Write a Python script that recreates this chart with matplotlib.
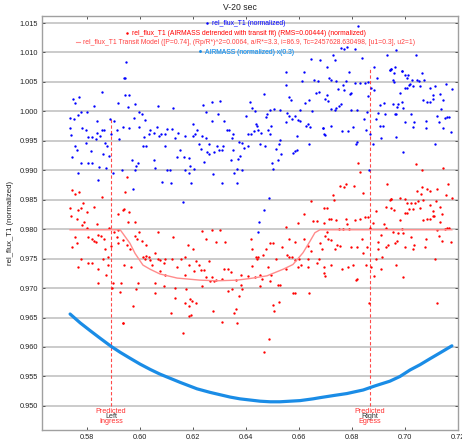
import matplotlib
matplotlib.use("Agg")
import matplotlib.pyplot as plt
from matplotlib.lines import Line2D
from matplotlib.ticker import FormatStrFormatter, MultipleLocator

plt.rcParams['font.family'] = ['Liberation Sans', 'DejaVu Sans']

title = "V-20 sec"
ylabel = "rel_flux_T1 (normalized)"
legend_labels = [
    "rel_flux_T1 (normalized)",
    "rel_flux_T1 (AIRMASS detrended with transit fit) (RMS=0.00444) (normalized)",
    "rel_flux_T1 Transit Model ([P=0.74], (Rp/R*)^2=0.0064, a/R*=3.3, i=86.9, Tc=2457628.630498, [u1=0.3], u2=1)",
    "AIRMASS (normalized) x(0.3)",
]
ingress_t = 0.5891
egress_t = 0.6868
ingress_top = 0.9987
egress_top = 1.0076
x_ticks = [0.58, 0.60, 0.62, 0.64, 0.66, 0.68, 0.70, 0.72]

# rel_flux_T1 (normalized): (time, flux)
blue_points = [
    (0.5855, 1.0033), (0.5748, 1.0021), (0.5770, 1.0024), (0.5755, 1.0014), (0.5828, 1.0009),
    (0.5918, 1.0014), (0.5777, 0.9999), (0.5799, 0.9999), (0.5765, 0.9993), (0.5736, 0.9989),
    (0.5752, 0.9987), (0.5836, 0.9984), (0.5887, 0.9987), (0.5903, 0.9984), (0.5937, 0.9974),
    (0.5736, 0.9971), (0.5782, 0.9971), (0.5796, 0.9969), (0.5855, 0.9968), (0.5865, 0.9968),
    (0.5839, 0.9964), (0.5912, 0.9969), (0.5738, 0.9960), (0.5805, 0.9956), (0.5818, 0.9956),
    (0.5833, 0.9953), (0.5849, 0.9959), (0.5891, 0.9961), (0.5921, 0.9953), (0.5795, 0.9947),
    (0.5868, 0.9947), (0.5755, 0.9942), (0.5874, 0.9941), (0.5761, 0.9935), (0.5815, 0.9932),
    (0.5862, 0.9928), (0.5883, 0.9924), (0.5742, 0.9923), (0.5777, 0.9912), (0.5805, 0.9912),
    (0.5820, 0.9913), (0.5846, 0.9906), (0.5872, 0.9904), (0.5931, 0.9901), (0.5765, 0.9896),
    (0.5899, 0.9895), (0.5843, 0.9883), (0.5941, 1.0057),
    (0.5947, 1.0083), (0.5945, 1.0056), (0.5942, 1.0027), (0.5960, 1.0027), (0.5982, 1.0013),
    (0.5955, 1.0008), (0.6068, 1.0009), (0.6123, 1.0006), (0.5997, 0.9999), (0.6007, 0.9996),
    (0.5976, 0.9988), (0.6020, 0.9985), (0.5995, 0.9974), (0.6064, 0.9974), (0.5957, 0.9971),
    (0.6039, 0.9969), (0.6102, 0.9970), (0.6121, 0.9970), (0.6052, 0.9964), (0.6080, 0.9962),
    (0.6096, 0.9961), (0.6143, 0.9964), (0.6033, 0.9961), (0.6171, 0.9959), (0.6070, 0.9958),
    (0.6133, 0.9955), (0.6014, 0.9957), (0.6023, 0.9941), (0.6010, 0.9942), (0.6093, 0.9942),
    (0.6152, 0.9935), (0.6165, 0.9923), (0.6140, 0.9923), (0.5970, 0.9918), (0.6052, 0.9918),
    (0.6184, 0.9921), (0.5992, 0.9912), (0.5985, 0.9907), (0.6058, 0.9904), (0.6102, 0.9901),
    (0.6114, 0.9901), (0.6168, 0.9900), (0.5980, 0.9900), (0.6184, 0.9896), (0.6083, 0.9880),
    (0.6118, 0.9878), (0.5972, 0.9868), (0.6161, 0.9846),
    (0.6271, 1.0016), (0.6301, 1.0017), (0.6238, 1.0010), (0.6248, 0.9999), (0.6415, 1.0016),
    (0.6424, 1.0006), (0.6296, 0.9996), (0.6273, 0.9983), (0.6198, 0.9978), (0.6315, 0.9984),
    (0.6399, 0.9992), (0.6434, 1.0000), (0.6443, 0.9976), (0.6216, 0.9969), (0.6208, 0.9962),
    (0.6233, 0.9959), (0.6200, 0.9958), (0.6336, 0.9969), (0.6327, 0.9969), (0.6349, 0.9962),
    (0.6409, 0.9961), (0.6418, 0.9961), (0.6430, 0.9966), (0.6250, 0.9954), (0.6346, 0.9955),
    (0.6223, 0.9945), (0.6260, 0.9945), (0.6292, 0.9941), (0.6313, 0.9942), (0.6374, 0.9948),
    (0.6384, 0.9947), (0.6409, 0.9941), (0.6229, 0.9936), (0.6298, 0.9934), (0.6308, 0.9935),
    (0.6393, 0.9938), (0.6254, 0.9931), (0.6279, 0.9931), (0.6260, 0.9928), (0.6349, 0.9934),
    (0.6376, 0.9924), (0.6371, 0.9919), (0.6242, 0.9914), (0.6345, 0.9918), (0.6188, 0.9907),
    (0.6204, 0.9903), (0.6367, 0.9903), (0.6384, 0.9900), (0.6355, 0.9896), (0.6276, 0.9894),
    (0.6308, 0.9879), (0.6367, 0.9878), (0.6191, 0.9879), (0.6447, 0.9796),
    (0.6680, 1.0088), (0.6646, 1.0089), (0.6549, 1.0066), (0.6617, 1.0066), (0.6658, 1.0053),
    (0.6671, 1.0051), (0.6612, 1.0051), (0.6551, 1.0044), (0.6664, 1.0032), (0.6674, 1.0033),
    (0.6466, 1.0029), (0.6561, 1.0025), (0.6570, 1.0019), (0.6639, 1.0019), (0.6624, 1.0014),
    (0.6507, 1.0004), (0.6491, 1.0003), (0.6529, 1.0002), (0.6602, 1.0003), (0.6554, 0.9997),
    (0.6649, 1.0000), (0.6478, 0.9995), (0.6476, 0.9991), (0.6564, 0.9992), (0.6583, 0.9992),
    (0.6573, 0.9987), (0.6595, 0.9985), (0.6604, 0.9983), (0.6549, 0.9982), (0.6438, 0.9978),
    (0.6495, 0.9976), (0.6633, 0.9979), (0.6642, 0.9974), (0.6627, 0.9975), (0.6690, 0.9972),
    (0.6444, 0.9969), (0.6482, 0.9969), (0.6457, 0.9964), (0.6491, 0.9961), (0.6591, 0.9959),
    (0.6696, 0.9961), (0.6529, 0.9951), (0.6524, 0.9945), (0.6453, 0.9945), (0.6473, 0.9942),
    (0.6637, 0.9945), (0.6513, 0.9936), (0.6591, 0.9935), (0.6583, 0.9932), (0.6576, 0.9930),
    (0.6532, 0.9928), (0.6520, 0.9918), (0.6498, 0.9912), (0.6503, 0.9903), (0.6486, 0.9853),
    (0.6466, 0.9832), (0.6448, 0.9812),
    (0.6823, 1.0145), (0.6782, 1.0110), (0.6760, 1.0108), (0.6769, 1.0106), (0.6811, 1.0106),
    (0.6729, 1.0095), (0.6735, 1.0087), (0.6839, 1.0091), (0.6933, 1.0095), (0.6882, 1.0075),
    (0.6704, 1.0075), (0.6943, 1.0071), (0.6949, 1.0072), (0.6789, 1.0066), (0.6895, 1.0057),
    (0.6714, 1.0056), (0.6719, 1.0054), (0.6741, 1.0052), (0.6779, 1.0052), (0.6811, 1.0048),
    (0.6832, 1.0048), (0.6848, 1.0049), (0.6861, 1.0050), (0.6767, 1.0044), (0.6873, 1.0039),
    (0.6748, 1.0038), (0.6769, 1.0036), (0.6882, 1.0036), (0.6798, 1.0032), (0.6792, 1.0030),
    (0.6704, 1.0027), (0.6697, 1.0021), (0.6861, 1.0026), (0.6710, 1.0018), (0.6760, 1.0013),
    (0.6920, 1.0014), (0.6907, 1.0011), (0.6751, 1.0009), (0.6741, 1.0006), (0.6735, 1.0003),
    (0.6719, 1.0004), (0.6798, 1.0003), (0.6819, 1.0002), (0.6855, 0.9999), (0.6899, 0.9997),
    (0.6924, 0.9996), (0.6844, 0.9987), (0.6892, 0.9987), (0.6905, 0.9976), (0.6917, 0.9976),
    (0.6722, 0.9976), (0.6691, 0.9972), (0.6804, 0.9974), (0.6764, 0.9967), (0.6785, 0.9967),
    (0.6852, 0.9969), (0.6697, 0.9960), (0.6867, 0.9961), (0.6911, 0.9955), (0.6817, 0.9948),
    (0.6814, 0.9945), (0.6880, 0.9945), (0.6865, 0.9901),
    (0.6966, 1.0104), (0.7042, 1.0096), (0.6963, 1.0075), (0.6944, 1.0070), (0.6988, 1.0069),
    (0.7063, 1.0065), (0.6946, 1.0072), (0.6987, 1.0068), (0.7012, 1.0062), (0.6959, 1.0065),
    (0.7000, 1.0061), (0.7006, 1.0057), (0.7025, 1.0053), (0.7044, 1.0054), (0.7071, 1.0053),
    (0.6956, 1.0054), (0.6958, 1.0050), (0.7019, 1.0047), (0.7054, 1.0052), (0.7016, 1.0045),
    (0.7154, 1.0047), (0.7031, 1.0043), (0.7056, 1.0043), (0.7094, 1.0040), (0.7115, 1.0043),
    (0.7000, 1.0040), (0.7006, 1.0040), (0.7176, 1.0038), (0.6981, 1.0031), (0.7132, 1.0030),
    (0.7107, 1.0027), (0.7104, 1.0021), (0.7069, 1.0019), (0.7084, 1.0016), (0.7094, 1.0016),
    (0.7144, 1.0019), (0.6987, 1.0016), (0.6953, 1.0012), (0.6974, 1.0012), (0.6991, 1.0006),
    (0.6971, 1.0008), (0.7134, 1.0004), (0.6966, 0.9996), (0.6962, 0.9995), (0.7021, 0.9995),
    (0.7119, 0.9992), (0.7157, 0.9991), (0.7151, 0.9989), (0.7167, 0.9991), (0.7081, 0.9984),
    (0.7000, 0.9982), (0.7129, 0.9982), (0.7034, 0.9982), (0.7029, 0.9974), (0.7079, 0.9972),
    (0.7142, 0.9972), (0.7172, 0.9965), (0.6966, 0.9957), (0.7113, 0.9945), (0.6993, 0.9931),
]

# rel_flux_T1 (AIRMASS detrended with transit fit): (time, flux)
red_points = [
    (0.5744, 0.9866), (0.5755, 0.9859), (0.5770, 0.9863), (0.5855, 0.9854), (0.5786, 0.9845),
    (0.5736, 0.9836), (0.5767, 0.9833), (0.5777, 0.9836), (0.5828, 0.9837), (0.5801, 0.9830),
    (0.5937, 0.9833), (0.5918, 0.9825), (0.5739, 0.9822), (0.5761, 0.9818), (0.5790, 0.9813),
    (0.5836, 0.9809), (0.5780, 0.9807), (0.5799, 0.9802), (0.5883, 0.9802), (0.5903, 0.9795),
    (0.5918, 0.9798), (0.5755, 0.9786), (0.5805, 0.9787), (0.5818, 0.9784), (0.5840, 0.9790),
    (0.5852, 0.9788), (0.5833, 0.9778), (0.5828, 0.9780), (0.5865, 0.9783), (0.5912, 0.9786),
    (0.5937, 0.9782), (0.5742, 0.9769), (0.5761, 0.9776), (0.5868, 0.9766), (0.5891, 0.9771),
    (0.5915, 0.9777), (0.5880, 0.9753), (0.5777, 0.9750), (0.5805, 0.9742), (0.5820, 0.9742),
    (0.5859, 0.9750), (0.5765, 0.9736), (0.5843, 0.9732), (0.5880, 0.9739), (0.5872, 0.9722),
    (0.5843, 0.9708), (0.5899, 0.9708), (0.5928, 0.9709), (0.5893, 0.9701), (0.5924, 0.9693),
    (0.5937, 0.9640),
    (0.5951, 0.9889), (0.5942, 0.9863), (0.5938, 0.9835), (0.5960, 0.9829), (0.5955, 0.9813),
    (0.5982, 0.9813), (0.5997, 0.9795), (0.6068, 0.9796), (0.5980, 0.9788), (0.5989, 0.9783),
    (0.6007, 0.9780), (0.5951, 0.9774), (0.5964, 0.9767), (0.6123, 0.9787), (0.6023, 0.9773),
    (0.6181, 0.9774), (0.6058, 0.9760), (0.6010, 0.9752), (0.6023, 0.9755), (0.6033, 0.9753),
    (0.6018, 0.9749), (0.6039, 0.9748), (0.6077, 0.9748), (0.6096, 0.9749), (0.6121, 0.9749),
    (0.6156, 0.9750), (0.6171, 0.9752), (0.6068, 0.9749), (0.6089, 0.9742), (0.6140, 0.9736),
    (0.6184, 0.9740), (0.5938, 0.9739), (0.6045, 0.9740), (0.5967, 0.9735), (0.6096, 0.9723),
    (0.6077, 0.9729), (0.6171, 0.9722), (0.5992, 0.9709), (0.6055, 0.9708), (0.6089, 0.9704),
    (0.5985, 0.9698), (0.6133, 0.9701), (0.6174, 0.9698), (0.6131, 0.9684), (0.6058, 0.9691),
    (0.6171, 0.9675), (0.6184, 0.9669), (0.5973, 0.9670), (0.6118, 0.9658), (0.6184, 0.9653),
    (0.5935, 0.9640), (0.6161, 0.9623),
    (0.6235, 0.9797), (0.6271, 0.9799), (0.6302, 0.9798), (0.6248, 0.9783), (0.6418, 0.9783),
    (0.6198, 0.9766), (0.6288, 0.9778), (0.6321, 0.9779), (0.6424, 0.9766), (0.6210, 0.9746),
    (0.6223, 0.9740), (0.6260, 0.9746), (0.6317, 0.9733), (0.6333, 0.9733), (0.6437, 0.9753),
    (0.6443, 0.9749), (0.6424, 0.9738), (0.6204, 0.9729), (0.6229, 0.9730), (0.6242, 0.9731),
    (0.6342, 0.9727), (0.6248, 0.9718), (0.6271, 0.9718), (0.6409, 0.9721), (0.6380, 0.9723),
    (0.6263, 0.9712), (0.6279, 0.9712), (0.6288, 0.9714), (0.6311, 0.9715), (0.6361, 0.9714),
    (0.6434, 0.9718), (0.6233, 0.9704), (0.6346, 0.9698), (0.6380, 0.9705), (0.6386, 0.9699),
    (0.6333, 0.9695), (0.6188, 0.9682), (0.6195, 0.9678), (0.6210, 0.9675), (0.6374, 0.9687),
    (0.6364, 0.9664), (0.6355, 0.9658), (0.6276, 0.9661), (0.6191, 0.9654), (0.6308, 0.9643),
    (0.6367, 0.9640),
    (0.6646, 0.9848), (0.6696, 0.9836), (0.6617, 0.9825), (0.6654, 0.9814), (0.6667, 0.9814),
    (0.6595, 0.9810), (0.6696, 0.9810), (0.6551, 0.9803), (0.6561, 0.9783), (0.6620, 0.9783),
    (0.6633, 0.9771), (0.6680, 0.9777), (0.6583, 0.9778), (0.6491, 0.9776), (0.6503, 0.9777),
    (0.6536, 0.9769), (0.6476, 0.9766), (0.6646, 0.9763), (0.6687, 0.9766), (0.6554, 0.9757),
    (0.6564, 0.9753), (0.6574, 0.9752), (0.6586, 0.9748), (0.6599, 0.9750), (0.6463, 0.9756),
    (0.6444, 0.9752), (0.6513, 0.9749), (0.6674, 0.9750), (0.6633, 0.9749), (0.6608, 0.9739),
    (0.6667, 0.9742), (0.6482, 0.9735), (0.6633, 0.9736), (0.6549, 0.9733), (0.6595, 0.9735),
    (0.6451, 0.9722), (0.6495, 0.9723), (0.6461, 0.9715), (0.6696, 0.9726), (0.6520, 0.9705),
    (0.6529, 0.9705), (0.6586, 0.9691), (0.6579, 0.9691), (0.6637, 0.9691), (0.6453, 0.9704),
    (0.6501, 0.9671), (0.6524, 0.9677), (0.6507, 0.9661), (0.6491, 0.9712), (0.6486, 0.9613),
    (0.6466, 0.9592),
    (0.6823, 0.9913), (0.6832, 0.9897), (0.6779, 0.9876), (0.6754, 0.9874), (0.6769, 0.9871),
    (0.6808, 0.9874), (0.6933, 0.9876), (0.6729, 0.9858), (0.6842, 0.9862), (0.6731, 0.9849),
    (0.6949, 0.9852), (0.6943, 0.9849), (0.6704, 0.9836), (0.6927, 0.9838), (0.6892, 0.9831),
    (0.6714, 0.9818), (0.6719, 0.9817), (0.6741, 0.9815), (0.6779, 0.9818), (0.6811, 0.9816),
    (0.6829, 0.9817), (0.6848, 0.9820), (0.6861, 0.9821), (0.6880, 0.9811), (0.6782, 0.9808),
    (0.6920, 0.9808), (0.6751, 0.9801), (0.6767, 0.9801), (0.6867, 0.9802), (0.6930, 0.9802),
    (0.6704, 0.9795), (0.6789, 0.9800), (0.6697, 0.9788), (0.6911, 0.9790), (0.6710, 0.9783),
    (0.6839, 0.9783), (0.6719, 0.9782), (0.6744, 0.9773), (0.6754, 0.9771), (0.6798, 0.9769),
    (0.6855, 0.9770), (0.6899, 0.9778), (0.6930, 0.9770), (0.6735, 0.9766), (0.6936, 0.9774),
    (0.6819, 0.9770), (0.6899, 0.9766), (0.6842, 0.9759), (0.6892, 0.9750), (0.6915, 0.9753),
    (0.6722, 0.9739), (0.6694, 0.9735), (0.6764, 0.9732), (0.6785, 0.9735), (0.6804, 0.9740),
    (0.6852, 0.9740), (0.6870, 0.9735), (0.6911, 0.9733), (0.6697, 0.9721), (0.6882, 0.9721),
    (0.6817, 0.9716), (0.6814, 0.9714), (0.6865, 0.9675),
    (0.7041, 0.9910), (0.7066, 0.9901), (0.7142, 0.9904), (0.7163, 0.9877), (0.7063, 0.9871),
    (0.7084, 0.9869), (0.7044, 0.9864), (0.7122, 0.9869), (0.7154, 0.9858), (0.7059, 0.9859),
    (0.7094, 0.9864), (0.7176, 0.9853), (0.6946, 0.9852), (0.6981, 0.9853), (0.7000, 0.9852),
    (0.7069, 0.9849), (0.7050, 0.9847), (0.7117, 0.9847), (0.7006, 0.9845), (0.7021, 0.9844),
    (0.7037, 0.9844), (0.7094, 0.9841), (0.7132, 0.9837), (0.6949, 0.9836), (0.6958, 0.9833),
    (0.7016, 0.9835), (0.7031, 0.9835), (0.7056, 0.9836), (0.7107, 0.9831), (0.7000, 0.9828),
    (0.7006, 0.9828), (0.7104, 0.9823), (0.7109, 0.9823), (0.7138, 0.9826), (0.6981, 0.9815),
    (0.7069, 0.9816), (0.7084, 0.9817), (0.7094, 0.9817), (0.7132, 0.9813), (0.6987, 0.9801),
    (0.7122, 0.9799), (0.7151, 0.9800), (0.7157, 0.9802), (0.7167, 0.9802), (0.6956, 0.9795),
    (0.6974, 0.9794), (0.6991, 0.9794), (0.7129, 0.9788), (0.7021, 0.9786), (0.7081, 0.9784),
    (0.7138, 0.9780), (0.7172, 0.9778), (0.6971, 0.9780), (0.6962, 0.9777), (0.7034, 0.9773),
    (0.7000, 0.9769), (0.7029, 0.9766), (0.7075, 0.9769), (0.7113, 0.9749), (0.6966, 0.9739),
    (0.6993, 0.9719), (0.7122, 0.9675),
]

# Transit model (time, flux)
model_t = [0.5736, 0.5925, 0.5962, 0.5981, 0.6011, 0.6038, 0.6075, 0.6140, 0.6226, 0.6291,
           0.6366, 0.6415, 0.6479, 0.6540, 0.6577, 0.6615, 0.6642, 0.6660, 0.6679, 0.7177]
model_f = [0.9799, 0.9799, 0.9776, 0.9759, 0.9739, 0.9732, 0.9724, 0.9717, 0.97135, 0.97124,
           0.97135, 0.97163, 0.97208, 0.9732, 0.9740, 0.9760, 0.9780, 0.9794, 0.9799, 0.9799]

# AIRMASS (normalized, scaled)
airmass_t = [0.5736, 0.5774, 0.5811, 0.5849, 0.5891, 0.5925, 0.5962, 0.6000, 0.6038, 0.6075,
             0.6113, 0.6151, 0.6215, 0.6264, 0.6302, 0.6340, 0.6377, 0.6415, 0.6453, 0.6491,
             0.6528, 0.6566, 0.6604, 0.6653, 0.6679, 0.6736, 0.6781, 0.6811, 0.6842, 0.6887,
             0.6943, 0.6981, 0.7019, 0.7057, 0.7094, 0.7132, 0.7177]
airmass_f = [0.9656, 0.9641, 0.9628, 0.9615, 0.9601, 0.9591, 0.9581, 0.9571, 0.9562, 0.9554,
             0.9547, 0.9540, 0.9529, 0.9523, 0.9519, 0.9515, 0.9512, 0.9510, 0.9508, 0.9507,
             0.9507, 0.9508, 0.9509, 0.9512, 0.9514, 0.9518, 0.9521, 0.9524, 0.9527, 0.9534,
             0.9542, 0.9550, 0.9561, 0.9570, 0.9580, 0.9590, 0.9602]

blue_c = '#0000ff'
red_c = '#ff0000'
model_c = '#ff8c8c'
air_c = '#1a8ce6'
grid_c = '#bdbdbd'
guide_c = '#ff4a4a'

fig = plt.figure(figsize=(4.62, 4.46), dpi=100)
ax = fig.add_axes([42/462, 16/446, 416/462, 414/446])

ax.set_xlim(0.563, 0.720)
ax.set_ylim(0.94591, 1.01619)

ax.yaxis.set_major_locator(MultipleLocator(0.005))
ax.yaxis.set_major_formatter(FormatStrFormatter('%.3f'))
ax.set_xticks(x_ticks)
ax.xaxis.set_major_formatter(FormatStrFormatter('%.2f'))
ax.grid(axis='y', color=grid_c, linewidth=1.1)
ax.set_axisbelow(True)

ax.tick_params(direction='in', length=2.5, width=0.7, colors='#555555', labelsize=5.3,
               top=True, right=True, labelcolor='#222222', pad=3)
for s in ax.spines.values():
    s.set_color('#a0a0a0')
    s.set_linewidth(1.0)

bt, bf = zip(*blue_points)
rt, rf = zip(*red_points)
ax.plot(bt, bf, 'o', color=blue_c, ms=1.7, mew=0, zorder=3)
ax.plot(rt, rf, 'o', color=red_c, ms=1.7, mew=0, zorder=3)
ax.plot(model_t, model_f, '-', color=model_c, lw=1.0, zorder=4)
ax.plot(airmass_t, airmass_f, '-', color=air_c, lw=2.3, zorder=4, solid_capstyle='round',
        solid_joinstyle='round')

ax.vlines([ingress_t], 0.9499, ingress_top, colors=guide_c, linestyles=(0, (3, 2)), lw=0.8, zorder=2)
ax.vlines([egress_t], 0.9499, egress_top, colors=guide_c, linestyles=(0, (3, 2)), lw=0.8, zorder=2)

for xt, word, edge in [(ingress_t, 'Left', 'Ingress'), (egress_t, 'Right', 'Egress')]:
    ax.text(xt, 0.9482, word, ha='center', va='center', fontsize=5.2, color='#333333')
    ax.text(xt, 0.9490, 'Predicted', ha='center', va='center', fontsize=5.2, color='#ff3030')
    ax.text(xt, 0.9473, edge, ha='center', va='center', fontsize=5.2, color='#ff3030')

handles = [
    Line2D([], [], ls='none', marker='o', ms=1.8, mew=0, color=blue_c),
    Line2D([], [], ls='none', marker='o', ms=1.8, mew=0, color=red_c),
    Line2D([], [], ls='-', lw=0.8, color=model_c),
    Line2D([], [], ls='none', marker='o', ms=1.8, mew=0, color=air_c),
]
text_colors = [blue_c, red_c, '#ff4040', '#3aa0ee']
ypos = [0.981, 0.957, 0.935, 0.913]
for h, lab, c, yp in zip(handles, legend_labels, text_colors, ypos):
    leg = ax.legend([h], [lab], loc='center', bbox_to_anchor=(0.489, yp), frameon=False,
                    fontsize=4.9, handlelength=0.7, handletextpad=0.4, borderpad=0,
                    borderaxespad=0, labelcolor=c)
    ax.add_artist(leg)

ax.set_ylabel(ylabel, fontsize=5.6, color='#222222', labelpad=4)
fig.text(240/462, 1 - 8/446, title, ha='center', va='center', fontsize=6.2, color='#222222')

fig.savefig('out.png', dpi=100)
